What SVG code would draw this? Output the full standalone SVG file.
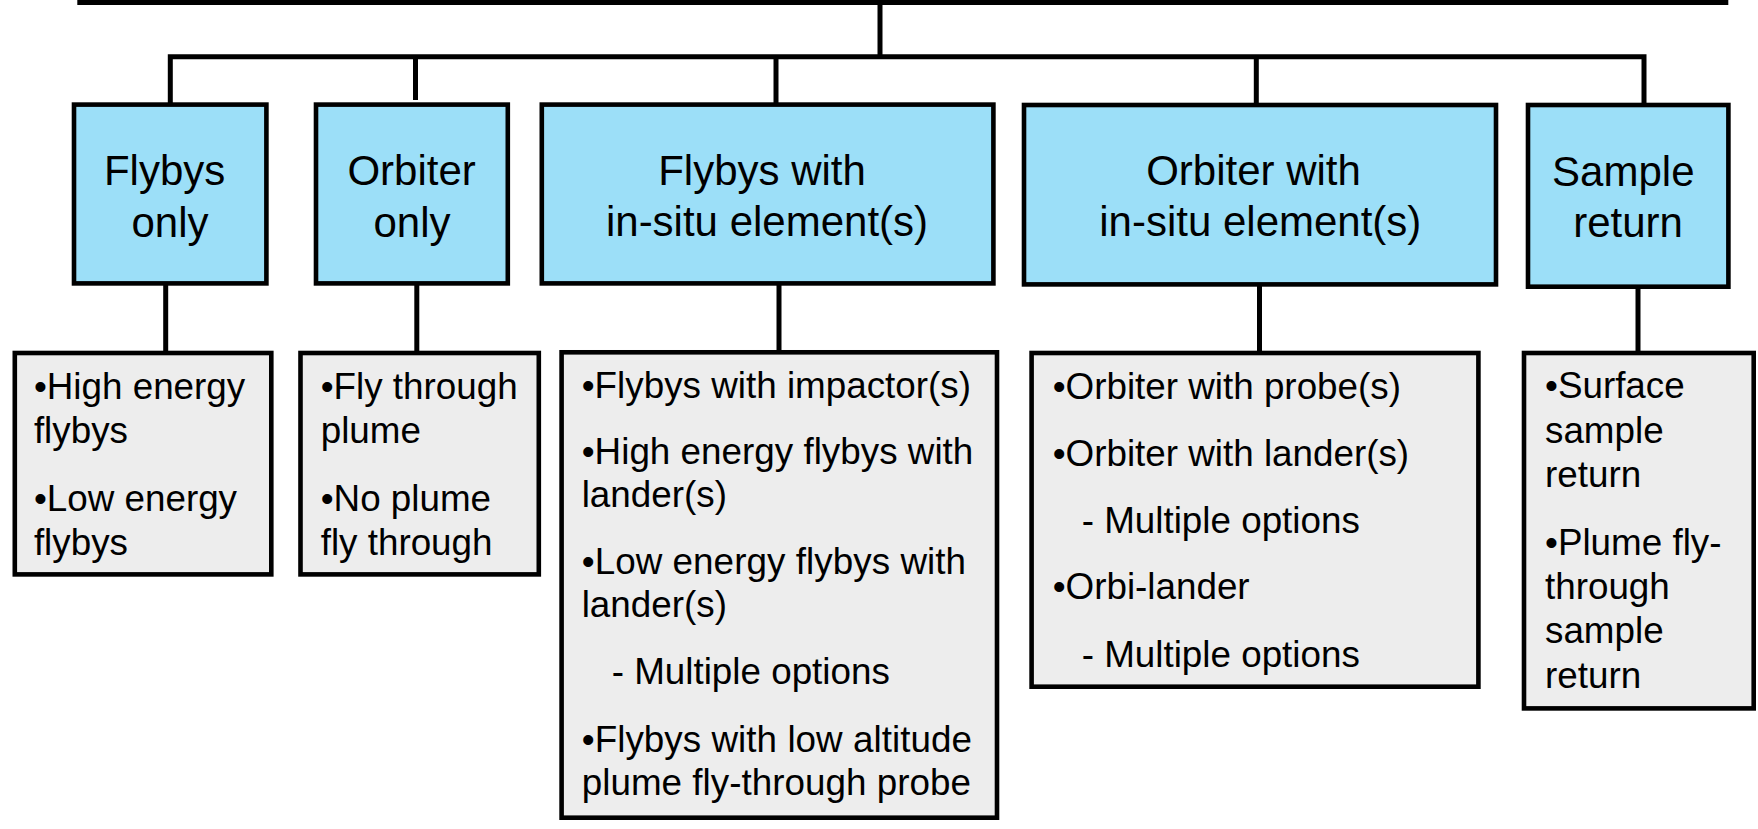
<svg xmlns="http://www.w3.org/2000/svg" width="1758" height="829" viewBox="0 0 1758 829">
<style>
.top{fill:#9CDFF8;stroke:#000;stroke-width:4.6}
.low{fill:#EDEDED;stroke:#000;stroke-width:4.6}
.conn{stroke:#000;stroke-width:5;fill:none;stroke-linecap:butt;stroke-linejoin:miter}
.tt{font-family:"Liberation Sans",Arial,sans-serif;font-size:42px;fill:#000;text-anchor:middle}
.lt{font-family:"Liberation Sans",Arial,sans-serif;font-size:36.8px;fill:#000}
</style>
<rect x="0" y="0" width="1758" height="829" fill="#fff"/>
<g id="connectors">
<rect x="77.3" y="-3" width="1651" height="8" fill="#000"/>
<line class="conn" x1="880" y1="3" x2="880" y2="57"/>
<path class="conn" d="M170.3,103 V56.7 H1644 V103"/>
<line class="conn" x1="415.5" y1="56" x2="415.5" y2="100"/>
<line class="conn" x1="776" y1="56" x2="776" y2="103"/>
<line class="conn" x1="1256.3" y1="56" x2="1256.3" y2="103"/>
<line class="conn" x1="165.7" y1="284" x2="165.7" y2="352"/>
<line class="conn" x1="416.8" y1="284" x2="416.8" y2="352"/>
<line class="conn" x1="779" y1="284" x2="779" y2="352"/>
<line class="conn" x1="1259.5" y1="285" x2="1259.5" y2="352"/>
<line class="conn" x1="1638" y1="287" x2="1638" y2="352"/>
</g>
<g id="n-flybys-only">
<rect class="top" x="74" y="104.6" width="192.4" height="178.8"/>
<text class="tt" x="164.6" y="185">Flybys</text>
<text class="tt" x="170" y="236.6">only</text>
</g>
<g id="n-orbiter-only">
<rect class="top" x="316" y="104.6" width="191.8" height="178.8"/>
<text class="tt" x="411.6" y="185">Orbiter</text>
<text class="tt" x="412" y="236.6">only</text>
</g>
<g id="n-flybys-insitu">
<rect class="top" x="541.8" y="104.6" width="451.6" height="178.8"/>
<text class="tt" x="762" y="185">Flybys with</text>
<text class="tt" x="767" y="236">in-situ element(s)</text>
</g>
<g id="n-orbiter-insitu">
<rect class="top" x="1024" y="105" width="472" height="179.4"/>
<text class="tt" x="1253.5" y="185">Orbiter with</text>
<text class="tt" x="1260.3" y="236">in-situ element(s)</text>
</g>
<g id="n-sample-return">
<rect class="top" x="1528" y="105" width="200.4" height="181.7"/>
<text class="tt" x="1623.3" y="186">Sample</text>
<text class="tt" x="1628" y="237.3">return</text>
</g>
<g id="l-flybys-only">
<rect class="low" x="14.8" y="353" width="256.5" height="221.4"/>
<text class="lt" x="33.9" y="399.3">•High energy</text>
<text class="lt" x="33.9" y="443.3">flybys</text>
<text class="lt" x="33.9" y="510.7">•Low energy</text>
<text class="lt" x="33.9" y="555">flybys</text>
</g>
<g id="l-orbiter-only">
<rect class="low" x="300.5" y="353" width="238.3" height="221.4"/>
<text class="lt" x="320.7" y="399.3">•Fly through</text>
<text class="lt" x="320.7" y="443.3">plume</text>
<text class="lt" x="320.7" y="510.7">•No plume</text>
<text class="lt" x="320.7" y="555">fly through</text>
</g>
<g id="l-flybys-insitu">
<rect class="low" x="561.6" y="352.3" width="435.4" height="465.4"/>
<text class="lt" x="581.7" y="398.3" textLength="389.3" lengthAdjust="spacing">•Flybys with impactor(s)</text>
<text class="lt" x="581.7" y="464" textLength="391.6" lengthAdjust="spacing">•High energy flybys with</text>
<text class="lt" x="581.7" y="507.3">lander(s)</text>
<text class="lt" x="581.7" y="574" textLength="384.3" lengthAdjust="spacing">•Low energy flybys with</text>
<text class="lt" x="581.7" y="617.3">lander(s)</text>
<text class="lt" x="611.7" y="684.3">- Multiple options</text>
<text class="lt" x="581.7" y="751.7" textLength="390.3" lengthAdjust="spacing">•Flybys with low altitude</text>
<text class="lt" x="581.7" y="795" textLength="389.3" lengthAdjust="spacing">plume fly-through probe</text>
</g>
<g id="l-orbiter-insitu">
<rect class="low" x="1031.6" y="353" width="446.8" height="333.7"/>
<text class="lt" x="1052.7" y="399">•Orbiter with probe(s)</text>
<text class="lt" x="1052.7" y="465.7">•Orbiter with lander(s)</text>
<text class="lt" x="1081.7" y="533.3">- Multiple options</text>
<text class="lt" x="1052.7" y="599.3">•Orbi-lander</text>
<text class="lt" x="1081.7" y="666.7">- Multiple options</text>
</g>
<g id="l-sample-return">
<rect class="low" x="1524" y="353" width="229.7" height="355.4"/>
<text class="lt" x="1545" y="398.3">•Surface</text>
<text class="lt" x="1545" y="442.7">sample</text>
<text class="lt" x="1545" y="487.3">return</text>
<text class="lt" x="1545" y="555">•Plume fly-</text>
<text class="lt" x="1545" y="599.3">through</text>
<text class="lt" x="1545" y="643.3">sample</text>
<text class="lt" x="1545" y="688.3">return</text>
</g>
</svg>
